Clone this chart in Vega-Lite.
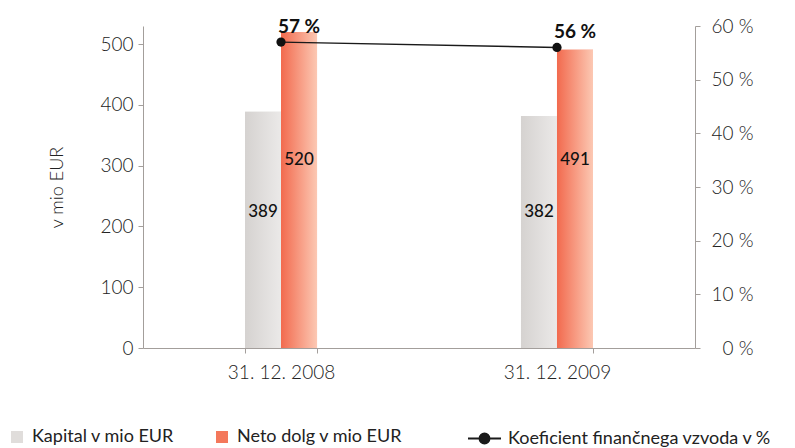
{
  "$schema": "https://vega.github.io/schema/vega-lite/v6.json",
  "width": 552,
  "height": 322,
  "autosize": {"type": "none"},
  "padding": {"left": 143, "top": 26, "right": 100, "bottom": 100},
  "background": "white",
  "config": {
    "font": "Lato",
    "view": {"stroke": null},
    "axis": {
      "labelFont": "Lato", "labelFontSize": 19, "labelColor": "#222222", "labelFontWeight": 300,
      "titleFont": "Lato", "titleFontSize": 18, "titleColor": "#222222", "titleFontWeight": 300,
      "domainColor": "#a39e9b", "tickColor": "#a39e9b", "grid": false, "tickSize": 5
    },
    "legend": {"labelFont": "Lato", "labelFontSize": 18, "labelColor": "#222222", "labelLimit": 0}
  },
  "layer": [
    {
      "data": {"values": [
        {"datum": "31. 12. 2008", "serija": "Kapital v mio EUR", "vrednost": 389},
        {"datum": "31. 12. 2008", "serija": "Neto dolg v mio EUR", "vrednost": 520},
        {"datum": "31. 12. 2009", "serija": "Kapital v mio EUR", "vrednost": 382},
        {"datum": "31. 12. 2009", "serija": "Neto dolg v mio EUR", "vrednost": 491}
      ]},
      "encoding": {
        "x": {"field": "datum", "type": "nominal", "scale": {"paddingInner": 0.739, "paddingOuter": 0.3696},
          "axis": {"title": null, "labelAngle": 0, "tickBand": "extent", "labelPadding": 10}},
        "xOffset": {"field": "serija", "type": "nominal", "scale": {"paddingInner": 0, "paddingOuter": 0}},
        "y": {"field": "vrednost", "type": "quantitative", "scale": {"domain": [0, 530], "nice": false},
          "axis": {"title": "v mio EUR", "values": [0, 100, 200, 300, 400, 500], "labelPadding": 5, "titlePadding": 33}}
      },
      "layer": [
        {
          "mark": {"type": "bar"},
          "encoding": {
            "fill": {"field": "serija", "type": "nominal",
              "scale": {"domain": ["Kapital v mio EUR", "Neto dolg v mio EUR"], "range": ["#e0dddb", "#f4785b"]},
              "legend": {"title": null, "orient": "none", "legendX": -135, "legendY": 402, "direction": "horizontal",
                "symbolType": "square", "symbolSize": 144, "symbolStrokeWidth": 0, "labelOffset": 6, "columnPadding": 38}}
          }
        },
        {
          "transform": [{"filter": "datum.serija == 'Kapital v mio EUR'"}],
          "mark": {"type": "bar", "color": {"gradient": "linear", "x1": 0, "y1": 0, "x2": 1, "y2": 0, "stops": [{"offset": 0, "color": "#d5d2d0"}, {"offset": 1, "color": "#ebe9e8"}]}}
        },
        {
          "transform": [{"filter": "datum.serija == 'Neto dolg v mio EUR'"}],
          "mark": {"type": "bar", "color": {"gradient": "linear", "x1": 0, "y1": 0, "x2": 1, "y2": 0, "stops": [{"offset": 0, "color": "#f26a4e"}, {"offset": 1, "color": "#fcc8b3"}]}}
        },
        {
          "transform": [{"filter": "datum.serija == 'Kapital v mio EUR'"}],
          "mark": {"type": "text", "fontSize": 17, "fontWeight": 500, "color": "#111111", "baseline": "middle"},
          "encoding": {"y": {"datum": 224}, "text": {"field": "vrednost", "type": "quantitative"}}
        },
        {
          "transform": [{"filter": "datum.serija == 'Neto dolg v mio EUR'"}],
          "mark": {"type": "text", "fontSize": 17, "fontWeight": 500, "color": "#111111", "baseline": "middle"},
          "encoding": {"y": {"datum": 310}, "text": {"field": "vrednost", "type": "quantitative"}}
        }
      ]
    },
    {
      "data": {"values": [
        {"datum": "31. 12. 2008", "koeficient": 57, "oznaka": "57 %"},
        {"datum": "31. 12. 2009", "koeficient": 56, "oznaka": "56 %"}
      ]},
      "encoding": {
        "x": {"field": "datum", "type": "nominal"},
        "y": {"field": "koeficient", "type": "quantitative", "scale": {"domain": [0, 60], "nice": false},
          "axis": {"orient": "right", "title": null, "values": [0, 10, 20, 30, 40, 50, 60], "labelExpr": "datum.value + ' %'", "labelAlign": "right", "labelPadding": 53}}
      },
      "layer": [
        {
          "mark": {"type": "line", "strokeWidth": 1.4},
          "encoding": {
            "stroke": {"datum": "Koeficient finančnega vzvoda v %", "type": "nominal", "scale": {"range": ["#1a1a1a"]},
              "legend": {"title": null, "orient": "none", "legendX": 324, "legendY": 395,
                "symbolType": "M-1,0L1,0M-0.3,0A0.3,0.3,0,1,0,0.3,0A0.3,0.3,0,1,0,-0.3,0Z",
                "symbolSize": 1089, "symbolStrokeWidth": 2, "symbolFillColor": "#1a1a1a", "labelOffset": 6}}
          }
        },
        {
          "mark": {"type": "point", "filled": true, "color": "#111111", "size": 85, "opacity": 1}
        },
        {
          "mark": {"type": "text", "fontSize": 19, "fontWeight": "bold", "color": "#111111", "dy": -15},
          "encoding": {"xOffset": {"datum": "Neto dolg v mio EUR"}, "text": {"field": "oznaka"}}
        }
      ]
    }
  ],
  "resolve": {"scale": {"y": "independent"}}
}
